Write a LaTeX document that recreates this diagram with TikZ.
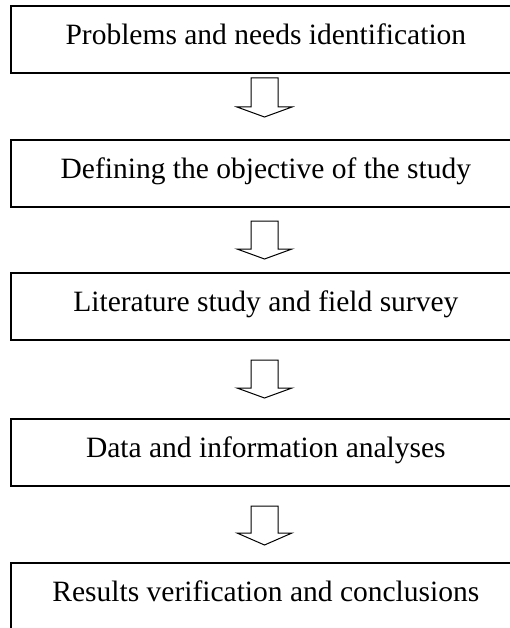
\documentclass[tikz,border=0pt]{standalone}
\usepackage{fontspec}
\setmainfont{Liberation Serif}
\begin{document}
\begin{tikzpicture}[x=1pt,y=-1pt,
  stepbox/.style={draw, line width=1.7pt, minimum width=510pt, minimum height=67pt,
    inner sep=0pt, anchor=north west, text height=19pt, text depth=8pt,
    font=\fontsize{29.5}{33}\selectfont},
  fatarrow/.style={draw, line width=1pt, fill=white, line join=miter}]
\useasboundingbox (0,0) rectangle (510,628);
\clip (0,0) rectangle (510,628);
\node[stepbox] (b1) at (10,5)   {Problems and needs identification};
\node[stepbox] (b2) at (10,139) {Defining the objective of the study};
\node[stepbox] (b3) at (10,272) {Literature study and field survey};
\node[stepbox] (b4) at (10,418) {Data and information analyses};
\node[stepbox] (b5) at (10,562) {Results verification and conclusions};
% arrows: shaft 251--278, head 237--292
\newcommand{\downarrowshape}[3]{%
  \draw[fatarrow] (251,#1) -- (278,#1) -- (278,#2) -- (292,#2) -- (264.5,#3)
    -- (237,#2) -- (251,#2) -- cycle;}
\downarrowshape{78}{107}{117}
\downarrowshape{221}{249}{259}
\downarrowshape{360}{388}{398}
\downarrowshape{506}{533}{545}
\end{tikzpicture}
\end{document}
